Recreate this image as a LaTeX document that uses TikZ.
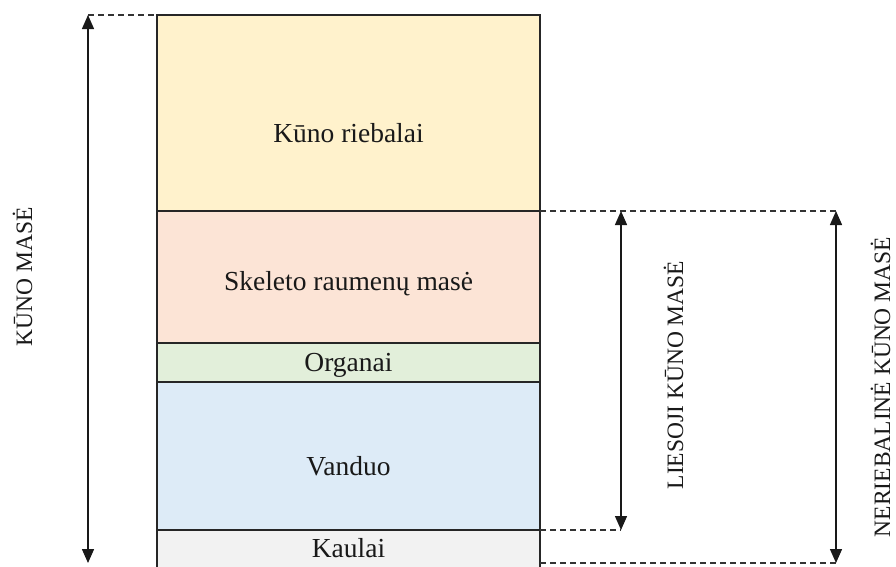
\documentclass[tikz,border=0pt]{standalone}
\usepackage{fontspec}
\setmainfont{Liberation Serif}
\usetikzlibrary{arrows.meta}
\definecolor{fatc}{HTML}{FFF2CC}
\definecolor{musc}{HTML}{FCE4D6}
\definecolor{orgc}{HTML}{E2EFDA}
\definecolor{watc}{HTML}{DDEBF7}
\definecolor{bonc}{HTML}{F2F2F2}
\begin{document}
\begin{tikzpicture}[x=1pt,y=-1pt,
  layer/.style={draw=black!85, line width=1.6pt, minimum width=383pt,
    anchor=north west, inner sep=0pt, outer sep=0pt},
  boxtext/.style={anchor=base, font=\fontsize{27.5}{32}\selectfont, text=black!90},
  dim/.style={line width=1.4pt, draw=black!90,
    {Triangle[width=12pt,length=14pt]}-{Triangle[width=12pt,length=14pt]}},
  guide/.style={line width=1.2pt, draw=black!80, dash pattern=on 6pt off 4pt},
  side/.style={rotate=90, anchor=base, font=\fontsize{23.5}{28}\selectfont, text=black!90}]
\useasboundingbox (0,0) rectangle (896,566);
\clip (0,0) rectangle (896,566);

% stacked body compartments
\node[layer, fill=fatc, minimum height=196pt] (fat) at (157,15) {};
\node[layer, fill=musc, minimum height=132pt] (mus) at (fat.south west) {};
\node[layer, fill=orgc, minimum height=39pt] (org) at (mus.south west) {};
\node[layer, fill=watc, minimum height=148pt] (wat) at (org.south west) {};
\node[layer, fill=bonc, minimum height=46pt] (bon) at (wat.south west) {};

\node[boxtext] (tfat) at (348.5,142) {Kūno riebalai};
\node[boxtext] (tmus) at (348.5,290) {Skeleto raumenų masė};
\node[boxtext] (torg) at (348.5,371) {Organai};
\node[boxtext] (twat) at (348.5,475) {Vanduo};
\node[boxtext] (tbon) at (348.5,557) {Kaulai};

% dimension end points
\coordinate (kt) at (88,15);
\coordinate (kb) at (88,563);
\coordinate (lt) at (621,211);
\coordinate (lb) at (621,530);
\coordinate (nt) at (836,211);
\coordinate (nb) at (836,563);
\coordinate (gb) at (540,563);

% guide lines
\draw[guide] (kt) -- (fat.north west);
\draw[guide] (fat.south east) -- (nt);
\draw[guide] (wat.south east) -- (lb);
\draw[guide] (gb) -- (nb);

% dimension arrows
\draw[dim] (kt) -- (kb);
\draw[dim] (lt) -- (lb);
\draw[dim] (nt) -- (nb);

\node[side] (lk) at (32,277) {KŪNO MASĖ};
\node[side] (ll) at (683,375) {LIESOJI KŪNO MASĖ};
\node[side] (ln) at (890,387) {NERIEBALINĖ KŪNO MASĖ};
\end{tikzpicture}
\end{document}
